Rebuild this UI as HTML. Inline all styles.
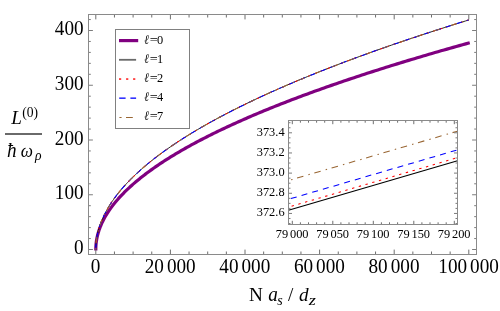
<!DOCTYPE html>
<html><head><meta charset="utf-8"><title>plot</title>
<style>html,body{margin:0;padding:0;background:#fff;}body{width:500px;height:311px;overflow:hidden;font-family:"Liberation Serif",serif;}svg{display:block}text{font-family:"Liberation Serif",serif;fill:#000}</style>
</head><body>
<svg width="500" height="311" viewBox="0 0 500 311" style="will-change:transform">
<rect x="0" y="0" width="500" height="311" fill="#fff"/>
<path d="M95.80 250.40 L95.80 249.50 L95.80 249.04 L95.81 248.52 L95.82 247.97 L95.84 247.41 L95.86 246.82 L95.89 246.23 L95.93 245.63 L95.98 245.01 L96.03 244.39 L96.09 243.77 L96.15 243.13 L96.23 242.49 L96.31 241.85 L96.40 241.20 L96.50 240.54 L96.61 239.88 L96.72 239.22 L96.85 238.55 L96.98 237.88 L97.12 237.21 L97.27 236.53 L97.43 235.85 L97.60 235.17 L97.77 234.48 L97.96 233.79 L98.15 233.10 L98.36 232.40 L98.57 231.70 L98.79 231.00 L99.02 230.30 L99.27 229.59 L99.52 228.89 L99.78 228.18 L100.05 227.47 L100.33 226.75 L100.62 226.04 L100.91 225.32 L101.22 224.60 L101.54 223.88 L101.87 223.15 L102.21 222.43 L102.56 221.70 L102.92 220.97 L103.29 220.24 L103.67 219.51 L104.06 218.77 L104.46 218.04 L104.87 217.30 L105.29 216.56 L105.72 215.82 L106.16 215.08 L106.61 214.34 L107.08 213.59 L107.55 212.85 L108.03 212.10 L108.53 211.35 L109.03 210.60 L109.55 209.85 L110.08 209.10 L110.61 208.34 L111.16 207.59 L111.72 206.83 L112.29 206.07 L112.88 205.31 L113.47 204.55 L114.07 203.79 L114.69 203.03 L115.31 202.27 L115.95 201.50 L116.60 200.74 L117.26 199.97 L117.93 199.20 L118.61 198.43 L119.30 197.66 L120.00 196.89 L120.72 196.12 L121.45 195.35 L122.19 194.57 L122.94 193.80 L123.70 193.02 L124.47 192.24 L125.25 191.47 L126.05 190.69 L126.86 189.91 L127.68 189.13 L128.51 188.35 L129.35 187.56 L130.21 186.78 L131.07 185.99 L131.95 185.21 L132.84 184.42 L133.74 183.64 L134.65 182.85 L135.58 182.06 L136.52 181.27 L137.46 180.48 L138.43 179.69 L139.40 178.90 L140.38 178.10 L141.38 177.31 L142.39 176.51 L143.41 175.72 L144.44 174.92 L145.49 174.13 L146.54 173.33 L147.61 172.53 L148.69 171.73 L149.79 170.93 L150.89 170.13 L152.01 169.33 L153.14 168.53 L154.29 167.72 L155.44 166.92 L156.61 166.12 L157.79 165.31 L158.98 164.51 L160.18 163.70 L161.40 162.89 L162.63 162.09 L163.87 161.28 L165.13 160.47 L166.39 159.66 L167.67 158.85 L168.96 158.04 L170.27 157.23 L171.58 156.41 L172.91 155.60 L174.26 154.79 L175.61 153.97 L176.98 153.16 L178.36 152.34 L179.75 151.53 L181.16 150.71 L182.58 149.89 L184.01 149.07 L185.45 148.25 L186.91 147.44 L188.38 146.62 L189.86 145.80 L191.35 144.97 L192.86 144.15 L194.38 143.33 L195.92 142.51 L197.46 141.68 L199.02 140.86 L200.60 140.04 L202.18 139.21 L203.78 138.39 L205.39 137.56 L207.02 136.73 L208.65 135.91 L210.30 135.08 L211.97 134.25 L213.65 133.42 L215.34 132.59 L217.04 131.76 L218.76 130.93 L220.48 130.10 L222.23 129.27 L223.98 128.44 L225.75 127.60 L227.53 126.77 L229.33 125.94 L231.14 125.10 L232.96 124.27 L234.80 123.43 L236.65 122.60 L238.51 121.76 L240.38 120.93 L242.27 120.09 L244.17 119.25 L246.09 118.41 L248.02 117.57 L249.96 116.73 L251.92 115.89 L253.89 115.05 L255.87 114.21 L257.87 113.37 L259.88 112.53 L261.90 111.69 L263.94 110.85 L265.99 110.00 L268.05 109.16 L270.13 108.32 L272.22 107.47 L274.32 106.63 L276.44 105.78 L278.57 104.94 L280.72 104.09 L282.88 103.25 L285.05 102.40 L287.24 101.55 L289.44 100.70 L291.65 99.85 L293.88 99.01 L296.12 98.16 L298.38 97.31 L300.65 96.46 L302.93 95.61 L305.23 94.76 L307.54 93.90 L309.86 93.05 L312.20 92.20 L314.55 91.35 L316.92 90.50 L319.30 89.64 L321.69 88.79 L324.10 87.93 L326.52 87.08 L328.96 86.22 L331.41 85.37 L333.87 84.51 L336.35 83.66 L338.84 82.80 L341.35 81.94 L343.87 81.09 L346.40 80.23 L348.95 79.37 L351.51 78.51 L354.08 77.65 L356.67 76.79 L359.28 75.93 L361.90 75.07 L364.53 74.21 L367.17 73.35 L369.83 72.49 L372.51 71.63 L375.20 70.77 L377.90 69.90 L380.62 69.04 L383.35 68.18 L386.10 67.31 L388.86 66.45 L391.63 65.58 L394.42 64.72 L397.22 63.85 L400.04 62.99 L402.87 62.12 L405.72 61.26 L408.58 60.39 L411.45 59.52 L414.34 58.66 L417.24 57.79 L420.16 56.92 L423.09 56.05 L426.04 55.18 L429.00 54.31 L431.97 53.45 L434.96 52.58 L437.96 51.71 L440.98 50.83 L444.02 49.96 L447.06 49.09 L450.12 48.22 L453.20 47.35 L456.29 46.48 L459.40 45.60 L462.52 44.73 L465.65 43.86 L468.80 42.98 L469.76 42.72" fill="none" stroke="#800080" stroke-width="3.2" stroke-linejoin="round"/>
<path d="M95.80 249.50 L95.80 248.99 L95.81 248.41 L95.82 247.80 L95.84 247.17 L95.86 246.53 L95.89 245.87 L95.93 245.19 L95.98 244.51 L96.03 243.82 L96.09 243.13 L96.15 242.42 L96.23 241.71 L96.31 240.99 L96.40 240.27 L96.50 239.54 L96.61 238.81 L96.72 238.07 L96.85 237.33 L96.98 236.59 L97.12 235.84 L97.27 235.08 L97.43 234.33 L97.60 233.57 L97.77 232.80 L97.96 232.04 L98.15 231.27 L98.36 230.49 L98.57 229.72 L98.79 228.94 L99.02 228.16 L99.27 227.37 L99.52 226.59 L99.78 225.80 L100.05 225.01 L100.33 224.21 L100.62 223.42 L100.91 222.62 L101.22 221.82 L101.54 221.02 L101.87 220.21 L102.21 219.41 L102.56 218.60 L102.92 217.79 L103.29 216.98 L103.67 216.16 L104.06 215.35 L104.46 214.53 L104.87 213.71 L105.29 212.89 L105.72 212.07 L106.16 211.24 L106.61 210.42 L107.08 209.59 L107.55 208.76 L108.03 207.93 L108.53 207.10 L109.03 206.26 L109.55 205.43 L110.08 204.59 L110.61 203.75 L111.16 202.91 L111.72 202.07 L112.29 201.23 L112.88 200.39 L113.47 199.54 L114.07 198.70 L114.69 197.85 L115.31 197.00 L115.95 196.15 L116.60 195.30 L117.26 194.45 L117.93 193.59 L118.61 192.74 L119.30 191.88 L120.00 191.03 L120.72 190.17 L121.45 189.31 L122.19 188.45 L122.94 187.59 L123.70 186.72 L124.47 185.86 L125.25 185.00 L126.05 184.13 L126.86 183.26 L127.68 182.40 L128.51 181.53 L129.35 180.66 L130.21 179.79 L131.07 178.91 L131.95 178.04 L132.84 177.17 L133.74 176.29 L134.65 175.42 L135.58 174.54 L136.52 173.66 L137.46 172.78 L138.43 171.90 L139.40 171.02 L140.38 170.14 L141.38 169.26 L142.39 168.38 L143.41 167.49 L144.44 166.61 L145.49 165.72 L146.54 164.84 L147.61 163.95 L148.69 163.06 L149.79 162.17 L150.89 161.28 L152.01 160.39 L153.14 159.50 L154.29 158.61 L155.44 157.71 L156.61 156.82 L157.79 155.93 L158.98 155.03 L160.18 154.13 L161.40 153.24 L162.63 152.34 L163.87 151.44 L165.13 150.54 L166.39 149.64 L167.67 148.74 L168.96 147.84 L170.27 146.94 L171.58 146.03 L172.91 145.13 L174.26 144.23 L175.61 143.32 L176.98 142.41 L178.36 141.51 L179.75 140.60 L181.16 139.69 L182.58 138.78 L184.01 137.88 L185.45 136.97 L186.91 136.06 L188.38 135.14 L189.86 134.23 L191.35 133.32 L192.86 132.41 L194.38 131.49 L195.92 130.58 L197.46 129.66 L199.02 128.75 L200.60 127.83 L202.18 126.91 L203.78 126.00 L205.39 125.08 L207.02 124.16 L208.65 123.24 L210.30 122.32 L211.97 121.40 L213.65 120.48 L215.34 119.56 L217.04 118.63 L218.76 117.71 L220.48 116.79 L222.23 115.86 L223.98 114.94 L225.75 114.01 L227.53 113.09 L229.33 112.16 L231.14 111.23 L232.96 110.30 L234.80 109.38 L236.65 108.45 L238.51 107.52 L240.38 106.59 L242.27 105.66 L244.17 104.73 L246.09 103.80 L248.02 102.86 L249.96 101.93 L251.92 101.00 L253.89 100.06 L255.87 99.13 L257.87 98.19 L259.88 97.26 L261.90 96.32 L263.94 95.39 L265.99 94.45 L268.05 93.51 L270.13 92.58 L272.22 91.64 L274.32 90.70 L276.44 89.76 L278.57 88.82 L280.72 87.88 L282.88 86.94 L285.05 86.00 L287.24 85.05 L289.44 84.11 L291.65 83.17 L293.88 82.23 L296.12 81.28 L298.38 80.34 L300.65 79.39 L302.93 78.45 L305.23 77.50 L307.54 76.56 L309.86 75.61 L312.20 74.66 L314.55 73.71 L316.92 72.77 L319.30 71.82 L321.69 70.87 L324.10 69.92 L326.52 68.97 L328.96 68.02 L331.41 67.07 L333.87 66.12 L336.35 65.16 L338.84 64.21 L341.35 63.26 L343.87 62.31 L346.40 61.35 L348.95 60.40 L351.51 59.44 L354.08 58.49 L356.67 57.53 L359.28 56.58 L361.90 55.62 L364.53 54.67 L367.17 53.71 L369.83 52.75 L372.51 51.79 L375.20 50.84 L377.90 49.88 L380.62 48.92 L383.35 47.96 L386.10 47.00 L388.86 46.04 L391.63 45.08 L394.42 44.12 L397.22 43.15 L400.04 42.19 L402.87 41.23 L405.72 40.27 L408.58 39.30 L411.45 38.34 L414.34 37.38 L417.24 36.41 L420.16 35.45 L423.09 34.48 L426.04 33.52 L429.00 32.55 L431.97 31.58 L434.96 30.62 L437.96 29.65 L440.98 28.68 L444.02 27.72 L447.06 26.75 L450.12 25.78 L453.20 24.81 L456.29 23.84 L459.40 22.87 L462.52 21.90 L465.65 20.93 L468.80 19.96" fill="none" stroke="#000" stroke-width="0.85"/>
<path d="M95.80 249.50 L95.80 248.99 L95.81 248.41 L95.82 247.80 L95.84 247.17 L95.86 246.53 L95.89 245.87 L95.93 245.19 L95.98 244.51 L96.03 243.82 L96.09 243.13 L96.15 242.42 L96.23 241.71 L96.31 240.99 L96.40 240.27 L96.50 239.54 L96.61 238.81 L96.72 238.07 L96.85 237.33 L96.98 236.59 L97.12 235.84 L97.27 235.08 L97.43 234.33 L97.60 233.57 L97.77 232.80 L97.96 232.04 L98.15 231.27 L98.36 230.49 L98.57 229.72 L98.79 228.94 L99.02 228.16 L99.27 227.37 L99.52 226.59 L99.78 225.80 L100.05 225.01 L100.33 224.21 L100.62 223.42 L100.91 222.62 L101.22 221.82 L101.54 221.02 L101.87 220.21 L102.21 219.41 L102.56 218.60 L102.92 217.79 L103.29 216.98 L103.67 216.16 L104.06 215.35 L104.46 214.53 L104.87 213.71 L105.29 212.89 L105.72 212.07 L106.16 211.24 L106.61 210.42 L107.08 209.59 L107.55 208.76 L108.03 207.93 L108.53 207.10 L109.03 206.26 L109.55 205.43 L110.08 204.59 L110.61 203.75 L111.16 202.91 L111.72 202.07 L112.29 201.23 L112.88 200.39 L113.47 199.54 L114.07 198.70 L114.69 197.85 L115.31 197.00 L115.95 196.15 L116.60 195.30 L117.26 194.45 L117.93 193.59 L118.61 192.74 L119.30 191.88 L120.00 191.03 L120.72 190.17 L121.45 189.31 L122.19 188.45 L122.94 187.59 L123.70 186.72 L124.47 185.86 L125.25 185.00 L126.05 184.13 L126.86 183.26 L127.68 182.40 L128.51 181.53 L129.35 180.66 L130.21 179.79 L131.07 178.91 L131.95 178.04 L132.84 177.17 L133.74 176.29 L134.65 175.42 L135.58 174.54 L136.52 173.66 L137.46 172.78 L138.43 171.90 L139.40 171.02 L140.38 170.14 L141.38 169.26 L142.39 168.38 L143.41 167.49 L144.44 166.61 L145.49 165.72 L146.54 164.84 L147.61 163.95 L148.69 163.06 L149.79 162.17 L150.89 161.28 L152.01 160.39 L153.14 159.50 L154.29 158.61 L155.44 157.71 L156.61 156.82 L157.79 155.93 L158.98 155.03 L160.18 154.13 L161.40 153.24 L162.63 152.34 L163.87 151.44 L165.13 150.54 L166.39 149.64 L167.67 148.74 L168.96 147.84 L170.27 146.94 L171.58 146.03 L172.91 145.13 L174.26 144.23 L175.61 143.32 L176.98 142.41 L178.36 141.51 L179.75 140.60 L181.16 139.69 L182.58 138.78 L184.01 137.88 L185.45 136.97 L186.91 136.06 L188.38 135.14 L189.86 134.23 L191.35 133.32 L192.86 132.41 L194.38 131.49 L195.92 130.58 L197.46 129.66 L199.02 128.75 L200.60 127.83 L202.18 126.91 L203.78 126.00 L205.39 125.08 L207.02 124.16 L208.65 123.24 L210.30 122.32 L211.97 121.40 L213.65 120.48 L215.34 119.56 L217.04 118.63 L218.76 117.71 L220.48 116.79 L222.23 115.86 L223.98 114.94 L225.75 114.01 L227.53 113.09 L229.33 112.16 L231.14 111.23 L232.96 110.30 L234.80 109.38 L236.65 108.45 L238.51 107.52 L240.38 106.59 L242.27 105.66 L244.17 104.73 L246.09 103.80 L248.02 102.86 L249.96 101.93 L251.92 101.00 L253.89 100.06 L255.87 99.13 L257.87 98.19 L259.88 97.26 L261.90 96.32 L263.94 95.39 L265.99 94.45 L268.05 93.51 L270.13 92.58 L272.22 91.64 L274.32 90.70 L276.44 89.76 L278.57 88.82 L280.72 87.88 L282.88 86.94 L285.05 86.00 L287.24 85.05 L289.44 84.11 L291.65 83.17 L293.88 82.23 L296.12 81.28 L298.38 80.34 L300.65 79.39 L302.93 78.45 L305.23 77.50 L307.54 76.56 L309.86 75.61 L312.20 74.66 L314.55 73.71 L316.92 72.77 L319.30 71.82 L321.69 70.87 L324.10 69.92 L326.52 68.97 L328.96 68.02 L331.41 67.07 L333.87 66.12 L336.35 65.16 L338.84 64.21 L341.35 63.26 L343.87 62.31 L346.40 61.35 L348.95 60.40 L351.51 59.44 L354.08 58.49 L356.67 57.53 L359.28 56.58 L361.90 55.62 L364.53 54.67 L367.17 53.71 L369.83 52.75 L372.51 51.79 L375.20 50.84 L377.90 49.88 L380.62 48.92 L383.35 47.96 L386.10 47.00 L388.86 46.04 L391.63 45.08 L394.42 44.12 L397.22 43.15 L400.04 42.19 L402.87 41.23 L405.72 40.27 L408.58 39.30 L411.45 38.34 L414.34 37.38 L417.24 36.41 L420.16 35.45 L423.09 34.48 L426.04 33.52 L429.00 32.55 L431.97 31.58 L434.96 30.62 L437.96 29.65 L440.98 28.68 L444.02 27.72 L447.06 26.75 L450.12 25.78 L453.20 24.81 L456.29 23.84 L459.40 22.87 L462.52 21.90 L465.65 20.93 L468.80 19.96" fill="none" stroke="#ff0000" stroke-width="1.05" stroke-dasharray="2.2 4.8"/>
<path d="M95.80 249.50 L95.80 248.99 L95.81 248.41 L95.82 247.80 L95.84 247.17 L95.86 246.53 L95.89 245.87 L95.93 245.19 L95.98 244.51 L96.03 243.82 L96.09 243.13 L96.15 242.42 L96.23 241.71 L96.31 240.99 L96.40 240.27 L96.50 239.54 L96.61 238.81 L96.72 238.07 L96.85 237.33 L96.98 236.59 L97.12 235.84 L97.27 235.08 L97.43 234.33 L97.60 233.57 L97.77 232.80 L97.96 232.04 L98.15 231.27 L98.36 230.49 L98.57 229.72 L98.79 228.94 L99.02 228.16 L99.27 227.37 L99.52 226.59 L99.78 225.80 L100.05 225.01 L100.33 224.21 L100.62 223.42 L100.91 222.62 L101.22 221.82 L101.54 221.02 L101.87 220.21 L102.21 219.41 L102.56 218.60 L102.92 217.79 L103.29 216.98 L103.67 216.16 L104.06 215.35 L104.46 214.53 L104.87 213.71 L105.29 212.89 L105.72 212.07 L106.16 211.24 L106.61 210.42 L107.08 209.59 L107.55 208.76 L108.03 207.93 L108.53 207.10 L109.03 206.26 L109.55 205.43 L110.08 204.59 L110.61 203.75 L111.16 202.91 L111.72 202.07 L112.29 201.23 L112.88 200.39 L113.47 199.54 L114.07 198.70 L114.69 197.85 L115.31 197.00 L115.95 196.15 L116.60 195.30 L117.26 194.45 L117.93 193.59 L118.61 192.74 L119.30 191.88 L120.00 191.03 L120.72 190.17 L121.45 189.31 L122.19 188.45 L122.94 187.59 L123.70 186.72 L124.47 185.86 L125.25 185.00 L126.05 184.13 L126.86 183.26 L127.68 182.40 L128.51 181.53 L129.35 180.66 L130.21 179.79 L131.07 178.91 L131.95 178.04 L132.84 177.17 L133.74 176.29 L134.65 175.42 L135.58 174.54 L136.52 173.66 L137.46 172.78 L138.43 171.90 L139.40 171.02 L140.38 170.14 L141.38 169.26 L142.39 168.38 L143.41 167.49 L144.44 166.61 L145.49 165.72 L146.54 164.84 L147.61 163.95 L148.69 163.06 L149.79 162.17 L150.89 161.28 L152.01 160.39 L153.14 159.50 L154.29 158.61 L155.44 157.71 L156.61 156.82 L157.79 155.93 L158.98 155.03 L160.18 154.13 L161.40 153.24 L162.63 152.34 L163.87 151.44 L165.13 150.54 L166.39 149.64 L167.67 148.74 L168.96 147.84 L170.27 146.94 L171.58 146.03 L172.91 145.13 L174.26 144.23 L175.61 143.32 L176.98 142.41 L178.36 141.51 L179.75 140.60 L181.16 139.69 L182.58 138.78 L184.01 137.88 L185.45 136.97 L186.91 136.06 L188.38 135.14 L189.86 134.23 L191.35 133.32 L192.86 132.41 L194.38 131.49 L195.92 130.58 L197.46 129.66 L199.02 128.75 L200.60 127.83 L202.18 126.91 L203.78 126.00 L205.39 125.08 L207.02 124.16 L208.65 123.24 L210.30 122.32 L211.97 121.40 L213.65 120.48 L215.34 119.56 L217.04 118.63 L218.76 117.71 L220.48 116.79 L222.23 115.86 L223.98 114.94 L225.75 114.01 L227.53 113.09 L229.33 112.16 L231.14 111.23 L232.96 110.30 L234.80 109.38 L236.65 108.45 L238.51 107.52 L240.38 106.59 L242.27 105.66 L244.17 104.73 L246.09 103.80 L248.02 102.86 L249.96 101.93 L251.92 101.00 L253.89 100.06 L255.87 99.13 L257.87 98.19 L259.88 97.26 L261.90 96.32 L263.94 95.39 L265.99 94.45 L268.05 93.51 L270.13 92.58 L272.22 91.64 L274.32 90.70 L276.44 89.76 L278.57 88.82 L280.72 87.88 L282.88 86.94 L285.05 86.00 L287.24 85.05 L289.44 84.11 L291.65 83.17 L293.88 82.23 L296.12 81.28 L298.38 80.34 L300.65 79.39 L302.93 78.45 L305.23 77.50 L307.54 76.56 L309.86 75.61 L312.20 74.66 L314.55 73.71 L316.92 72.77 L319.30 71.82 L321.69 70.87 L324.10 69.92 L326.52 68.97 L328.96 68.02 L331.41 67.07 L333.87 66.12 L336.35 65.16 L338.84 64.21 L341.35 63.26 L343.87 62.31 L346.40 61.35 L348.95 60.40 L351.51 59.44 L354.08 58.49 L356.67 57.53 L359.28 56.58 L361.90 55.62 L364.53 54.67 L367.17 53.71 L369.83 52.75 L372.51 51.79 L375.20 50.84 L377.90 49.88 L380.62 48.92 L383.35 47.96 L386.10 47.00 L388.86 46.04 L391.63 45.08 L394.42 44.12 L397.22 43.15 L400.04 42.19 L402.87 41.23 L405.72 40.27 L408.58 39.30 L411.45 38.34 L414.34 37.38 L417.24 36.41 L420.16 35.45 L423.09 34.48 L426.04 33.52 L429.00 32.55 L431.97 31.58 L434.96 30.62 L437.96 29.65 L440.98 28.68 L444.02 27.72 L447.06 26.75 L450.12 25.78 L453.20 24.81 L456.29 23.84 L459.40 22.87 L462.52 21.90 L465.65 20.93 L468.80 19.96" fill="none" stroke="#0000ff" stroke-width="1.05" stroke-dasharray="6 5.1"/>
<path d="M95.80 249.50 L95.80 248.99 L95.81 248.41 L95.82 247.80 L95.84 247.17 L95.86 246.53 L95.89 245.87 L95.93 245.19 L95.98 244.51 L96.03 243.82 L96.09 243.13 L96.15 242.42 L96.23 241.71 L96.31 240.99 L96.40 240.27 L96.50 239.54 L96.61 238.81 L96.72 238.07 L96.85 237.33 L96.98 236.59 L97.12 235.84 L97.27 235.08 L97.43 234.33 L97.60 233.57 L97.77 232.80 L97.96 232.04 L98.15 231.27 L98.36 230.49 L98.57 229.72 L98.79 228.94 L99.02 228.16 L99.27 227.37 L99.52 226.59 L99.78 225.80 L100.05 225.01 L100.33 224.21 L100.62 223.42 L100.91 222.62 L101.22 221.82 L101.54 221.02 L101.87 220.21 L102.21 219.41 L102.56 218.60 L102.92 217.79 L103.29 216.98 L103.67 216.16 L104.06 215.35 L104.46 214.53 L104.87 213.71 L105.29 212.89 L105.72 212.07 L106.16 211.24 L106.61 210.42 L107.08 209.59 L107.55 208.76 L108.03 207.93 L108.53 207.10 L109.03 206.26 L109.55 205.43 L110.08 204.59 L110.61 203.75 L111.16 202.91 L111.72 202.07 L112.29 201.23 L112.88 200.39 L113.47 199.54 L114.07 198.70 L114.69 197.85 L115.31 197.00 L115.95 196.15 L116.60 195.30 L117.26 194.45 L117.93 193.59 L118.61 192.74 L119.30 191.88 L120.00 191.03 L120.72 190.17 L121.45 189.31 L122.19 188.45 L122.94 187.59 L123.70 186.72 L124.47 185.86 L125.25 185.00 L126.05 184.13 L126.86 183.26 L127.68 182.40 L128.51 181.53 L129.35 180.66 L130.21 179.79 L131.07 178.91 L131.95 178.04 L132.84 177.17 L133.74 176.29 L134.65 175.42 L135.58 174.54 L136.52 173.66 L137.46 172.78 L138.43 171.90 L139.40 171.02 L140.38 170.14 L141.38 169.26 L142.39 168.38 L143.41 167.49 L144.44 166.61 L145.49 165.72 L146.54 164.84 L147.61 163.95 L148.69 163.06 L149.79 162.17 L150.89 161.28 L152.01 160.39 L153.14 159.50 L154.29 158.61 L155.44 157.71 L156.61 156.82 L157.79 155.93 L158.98 155.03 L160.18 154.13 L161.40 153.24 L162.63 152.34 L163.87 151.44 L165.13 150.54 L166.39 149.64 L167.67 148.74 L168.96 147.84 L170.27 146.94 L171.58 146.03 L172.91 145.13 L174.26 144.23 L175.61 143.32 L176.98 142.41 L178.36 141.51 L179.75 140.60 L181.16 139.69 L182.58 138.78 L184.01 137.88 L185.45 136.97 L186.91 136.06 L188.38 135.14 L189.86 134.23 L191.35 133.32 L192.86 132.41 L194.38 131.49 L195.92 130.58 L197.46 129.66 L199.02 128.75 L200.60 127.83 L202.18 126.91 L203.78 126.00 L205.39 125.08 L207.02 124.16 L208.65 123.24 L210.30 122.32 L211.97 121.40 L213.65 120.48 L215.34 119.56 L217.04 118.63 L218.76 117.71 L220.48 116.79 L222.23 115.86 L223.98 114.94 L225.75 114.01 L227.53 113.09 L229.33 112.16 L231.14 111.23 L232.96 110.30 L234.80 109.38 L236.65 108.45 L238.51 107.52 L240.38 106.59 L242.27 105.66 L244.17 104.73 L246.09 103.80 L248.02 102.86 L249.96 101.93 L251.92 101.00 L253.89 100.06 L255.87 99.13 L257.87 98.19 L259.88 97.26 L261.90 96.32 L263.94 95.39 L265.99 94.45 L268.05 93.51 L270.13 92.58 L272.22 91.64 L274.32 90.70 L276.44 89.76 L278.57 88.82 L280.72 87.88 L282.88 86.94 L285.05 86.00 L287.24 85.05 L289.44 84.11 L291.65 83.17 L293.88 82.23 L296.12 81.28 L298.38 80.34 L300.65 79.39 L302.93 78.45 L305.23 77.50 L307.54 76.56 L309.86 75.61 L312.20 74.66 L314.55 73.71 L316.92 72.77 L319.30 71.82 L321.69 70.87 L324.10 69.92 L326.52 68.97 L328.96 68.02 L331.41 67.07 L333.87 66.12 L336.35 65.16 L338.84 64.21 L341.35 63.26 L343.87 62.31 L346.40 61.35 L348.95 60.40 L351.51 59.44 L354.08 58.49 L356.67 57.53 L359.28 56.58 L361.90 55.62 L364.53 54.67 L367.17 53.71 L369.83 52.75 L372.51 51.79 L375.20 50.84 L377.90 49.88 L380.62 48.92 L383.35 47.96 L386.10 47.00 L388.86 46.04 L391.63 45.08 L394.42 44.12 L397.22 43.15 L400.04 42.19 L402.87 41.23 L405.72 40.27 L408.58 39.30 L411.45 38.34 L414.34 37.38 L417.24 36.41 L420.16 35.45 L423.09 34.48 L426.04 33.52 L429.00 32.55 L431.97 31.58 L434.96 30.62 L437.96 29.65 L440.98 28.68 L444.02 27.72 L447.06 26.75 L450.12 25.78 L453.20 24.81 L456.29 23.84 L459.40 22.87 L462.52 21.90 L465.65 20.93 L468.80 19.96" fill="none" stroke="#996633" stroke-width="1.05" stroke-dasharray="1.5 4.7 6.6 5.2"/>
<line x1="95.80" y1="14.50" x2="95.80" y2="19.40" stroke="#6e6e6e" stroke-width="1"/>
<line x1="95.80" y1="254.50" x2="95.80" y2="249.60" stroke="#6e6e6e" stroke-width="1"/>
<line x1="114.45" y1="14.50" x2="114.45" y2="17.50" stroke="#6e6e6e" stroke-width="1"/>
<line x1="114.45" y1="254.50" x2="114.45" y2="251.50" stroke="#6e6e6e" stroke-width="1"/>
<line x1="133.10" y1="14.50" x2="133.10" y2="17.50" stroke="#6e6e6e" stroke-width="1"/>
<line x1="133.10" y1="254.50" x2="133.10" y2="251.50" stroke="#6e6e6e" stroke-width="1"/>
<line x1="151.75" y1="14.50" x2="151.75" y2="17.50" stroke="#6e6e6e" stroke-width="1"/>
<line x1="151.75" y1="254.50" x2="151.75" y2="251.50" stroke="#6e6e6e" stroke-width="1"/>
<line x1="170.40" y1="14.50" x2="170.40" y2="19.40" stroke="#6e6e6e" stroke-width="1"/>
<line x1="170.40" y1="254.50" x2="170.40" y2="249.60" stroke="#6e6e6e" stroke-width="1"/>
<line x1="189.05" y1="14.50" x2="189.05" y2="17.50" stroke="#6e6e6e" stroke-width="1"/>
<line x1="189.05" y1="254.50" x2="189.05" y2="251.50" stroke="#6e6e6e" stroke-width="1"/>
<line x1="207.70" y1="14.50" x2="207.70" y2="17.50" stroke="#6e6e6e" stroke-width="1"/>
<line x1="207.70" y1="254.50" x2="207.70" y2="251.50" stroke="#6e6e6e" stroke-width="1"/>
<line x1="226.35" y1="14.50" x2="226.35" y2="17.50" stroke="#6e6e6e" stroke-width="1"/>
<line x1="226.35" y1="254.50" x2="226.35" y2="251.50" stroke="#6e6e6e" stroke-width="1"/>
<line x1="245.00" y1="14.50" x2="245.00" y2="19.40" stroke="#6e6e6e" stroke-width="1"/>
<line x1="245.00" y1="254.50" x2="245.00" y2="249.60" stroke="#6e6e6e" stroke-width="1"/>
<line x1="263.65" y1="14.50" x2="263.65" y2="17.50" stroke="#6e6e6e" stroke-width="1"/>
<line x1="263.65" y1="254.50" x2="263.65" y2="251.50" stroke="#6e6e6e" stroke-width="1"/>
<line x1="282.30" y1="14.50" x2="282.30" y2="17.50" stroke="#6e6e6e" stroke-width="1"/>
<line x1="282.30" y1="254.50" x2="282.30" y2="251.50" stroke="#6e6e6e" stroke-width="1"/>
<line x1="300.95" y1="14.50" x2="300.95" y2="17.50" stroke="#6e6e6e" stroke-width="1"/>
<line x1="300.95" y1="254.50" x2="300.95" y2="251.50" stroke="#6e6e6e" stroke-width="1"/>
<line x1="319.60" y1="14.50" x2="319.60" y2="19.40" stroke="#6e6e6e" stroke-width="1"/>
<line x1="319.60" y1="254.50" x2="319.60" y2="249.60" stroke="#6e6e6e" stroke-width="1"/>
<line x1="338.25" y1="14.50" x2="338.25" y2="17.50" stroke="#6e6e6e" stroke-width="1"/>
<line x1="338.25" y1="254.50" x2="338.25" y2="251.50" stroke="#6e6e6e" stroke-width="1"/>
<line x1="356.90" y1="14.50" x2="356.90" y2="17.50" stroke="#6e6e6e" stroke-width="1"/>
<line x1="356.90" y1="254.50" x2="356.90" y2="251.50" stroke="#6e6e6e" stroke-width="1"/>
<line x1="375.55" y1="14.50" x2="375.55" y2="17.50" stroke="#6e6e6e" stroke-width="1"/>
<line x1="375.55" y1="254.50" x2="375.55" y2="251.50" stroke="#6e6e6e" stroke-width="1"/>
<line x1="394.20" y1="14.50" x2="394.20" y2="19.40" stroke="#6e6e6e" stroke-width="1"/>
<line x1="394.20" y1="254.50" x2="394.20" y2="249.60" stroke="#6e6e6e" stroke-width="1"/>
<line x1="412.85" y1="14.50" x2="412.85" y2="17.50" stroke="#6e6e6e" stroke-width="1"/>
<line x1="412.85" y1="254.50" x2="412.85" y2="251.50" stroke="#6e6e6e" stroke-width="1"/>
<line x1="431.50" y1="14.50" x2="431.50" y2="17.50" stroke="#6e6e6e" stroke-width="1"/>
<line x1="431.50" y1="254.50" x2="431.50" y2="251.50" stroke="#6e6e6e" stroke-width="1"/>
<line x1="450.15" y1="14.50" x2="450.15" y2="17.50" stroke="#6e6e6e" stroke-width="1"/>
<line x1="450.15" y1="254.50" x2="450.15" y2="251.50" stroke="#6e6e6e" stroke-width="1"/>
<line x1="468.80" y1="14.50" x2="468.80" y2="19.40" stroke="#6e6e6e" stroke-width="1"/>
<line x1="468.80" y1="254.50" x2="468.80" y2="249.60" stroke="#6e6e6e" stroke-width="1"/>
<line x1="88.50" y1="249.50" x2="92.90" y2="249.50" stroke="#7c7c7c" stroke-width="1"/>
<line x1="476.50" y1="249.50" x2="472.10" y2="249.50" stroke="#7c7c7c" stroke-width="1"/>
<line x1="88.50" y1="238.55" x2="90.80" y2="238.55" stroke="#7c7c7c" stroke-width="1"/>
<line x1="476.50" y1="238.55" x2="474.20" y2="238.55" stroke="#7c7c7c" stroke-width="1"/>
<line x1="88.50" y1="227.60" x2="90.80" y2="227.60" stroke="#7c7c7c" stroke-width="1"/>
<line x1="476.50" y1="227.60" x2="474.20" y2="227.60" stroke="#7c7c7c" stroke-width="1"/>
<line x1="88.50" y1="216.65" x2="90.80" y2="216.65" stroke="#7c7c7c" stroke-width="1"/>
<line x1="476.50" y1="216.65" x2="474.20" y2="216.65" stroke="#7c7c7c" stroke-width="1"/>
<line x1="88.50" y1="205.70" x2="90.80" y2="205.70" stroke="#7c7c7c" stroke-width="1"/>
<line x1="476.50" y1="205.70" x2="474.20" y2="205.70" stroke="#7c7c7c" stroke-width="1"/>
<line x1="88.50" y1="194.75" x2="92.90" y2="194.75" stroke="#7c7c7c" stroke-width="1"/>
<line x1="476.50" y1="194.75" x2="472.10" y2="194.75" stroke="#7c7c7c" stroke-width="1"/>
<line x1="88.50" y1="183.80" x2="90.80" y2="183.80" stroke="#7c7c7c" stroke-width="1"/>
<line x1="476.50" y1="183.80" x2="474.20" y2="183.80" stroke="#7c7c7c" stroke-width="1"/>
<line x1="88.50" y1="172.85" x2="90.80" y2="172.85" stroke="#7c7c7c" stroke-width="1"/>
<line x1="476.50" y1="172.85" x2="474.20" y2="172.85" stroke="#7c7c7c" stroke-width="1"/>
<line x1="88.50" y1="161.90" x2="90.80" y2="161.90" stroke="#7c7c7c" stroke-width="1"/>
<line x1="476.50" y1="161.90" x2="474.20" y2="161.90" stroke="#7c7c7c" stroke-width="1"/>
<line x1="88.50" y1="150.95" x2="90.80" y2="150.95" stroke="#7c7c7c" stroke-width="1"/>
<line x1="476.50" y1="150.95" x2="474.20" y2="150.95" stroke="#7c7c7c" stroke-width="1"/>
<line x1="88.50" y1="140.00" x2="92.90" y2="140.00" stroke="#7c7c7c" stroke-width="1"/>
<line x1="476.50" y1="140.00" x2="472.10" y2="140.00" stroke="#7c7c7c" stroke-width="1"/>
<line x1="88.50" y1="129.05" x2="90.80" y2="129.05" stroke="#7c7c7c" stroke-width="1"/>
<line x1="476.50" y1="129.05" x2="474.20" y2="129.05" stroke="#7c7c7c" stroke-width="1"/>
<line x1="88.50" y1="118.10" x2="90.80" y2="118.10" stroke="#7c7c7c" stroke-width="1"/>
<line x1="476.50" y1="118.10" x2="474.20" y2="118.10" stroke="#7c7c7c" stroke-width="1"/>
<line x1="88.50" y1="107.15" x2="90.80" y2="107.15" stroke="#7c7c7c" stroke-width="1"/>
<line x1="476.50" y1="107.15" x2="474.20" y2="107.15" stroke="#7c7c7c" stroke-width="1"/>
<line x1="88.50" y1="96.20" x2="90.80" y2="96.20" stroke="#7c7c7c" stroke-width="1"/>
<line x1="476.50" y1="96.20" x2="474.20" y2="96.20" stroke="#7c7c7c" stroke-width="1"/>
<line x1="88.50" y1="85.25" x2="92.90" y2="85.25" stroke="#7c7c7c" stroke-width="1"/>
<line x1="476.50" y1="85.25" x2="472.10" y2="85.25" stroke="#7c7c7c" stroke-width="1"/>
<line x1="88.50" y1="74.30" x2="90.80" y2="74.30" stroke="#7c7c7c" stroke-width="1"/>
<line x1="476.50" y1="74.30" x2="474.20" y2="74.30" stroke="#7c7c7c" stroke-width="1"/>
<line x1="88.50" y1="63.35" x2="90.80" y2="63.35" stroke="#7c7c7c" stroke-width="1"/>
<line x1="476.50" y1="63.35" x2="474.20" y2="63.35" stroke="#7c7c7c" stroke-width="1"/>
<line x1="88.50" y1="52.40" x2="90.80" y2="52.40" stroke="#7c7c7c" stroke-width="1"/>
<line x1="476.50" y1="52.40" x2="474.20" y2="52.40" stroke="#7c7c7c" stroke-width="1"/>
<line x1="88.50" y1="41.45" x2="90.80" y2="41.45" stroke="#7c7c7c" stroke-width="1"/>
<line x1="476.50" y1="41.45" x2="474.20" y2="41.45" stroke="#7c7c7c" stroke-width="1"/>
<line x1="88.50" y1="30.50" x2="92.90" y2="30.50" stroke="#7c7c7c" stroke-width="1"/>
<line x1="476.50" y1="30.50" x2="472.10" y2="30.50" stroke="#7c7c7c" stroke-width="1"/>
<line x1="88.50" y1="19.55" x2="90.80" y2="19.55" stroke="#7c7c7c" stroke-width="1"/>
<line x1="476.50" y1="19.55" x2="474.20" y2="19.55" stroke="#7c7c7c" stroke-width="1"/>
<rect x="88.5" y="14.5" width="388.0" height="240.0" fill="none" stroke="#8a8a8a" stroke-width="1"/>
<text transform="translate(83.60 254.10) scale(1.000 1.060)" font-size="19.20" text-anchor="end"  >0</text>
<text transform="translate(83.60 199.35) scale(1.000 1.060)" font-size="19.20" text-anchor="end"  >100</text>
<text transform="translate(83.60 144.60) scale(1.000 1.060)" font-size="19.20" text-anchor="end"  >200</text>
<text transform="translate(83.60 89.85) scale(1.000 1.060)" font-size="19.20" text-anchor="end"  >300</text>
<text transform="translate(83.60 35.10) scale(1.000 1.060)" font-size="19.20" text-anchor="end"  >400</text>
<text transform="translate(95.60 273.00) scale(1.000 1.060)" font-size="19.20" text-anchor="middle"  >0</text>
<text transform="translate(170.20 273.00) scale(1.000 1.060)" font-size="19.20" text-anchor="middle"  >20<tspan dx="3.00">000</tspan></text>
<text transform="translate(244.80 273.00) scale(1.000 1.060)" font-size="19.20" text-anchor="middle"  >40<tspan dx="3.00">000</tspan></text>
<text transform="translate(319.40 273.00) scale(1.000 1.060)" font-size="19.20" text-anchor="middle"  >60<tspan dx="3.00">000</tspan></text>
<text transform="translate(394.00 273.00) scale(1.000 1.060)" font-size="19.20" text-anchor="middle"  >80<tspan dx="3.00">000</tspan></text>
<text transform="translate(468.60 273.00) scale(1.000 1.060)" font-size="19.20" text-anchor="middle"  >100<tspan dx="3.00">000</tspan></text>
<text transform="translate(249.00 301.00) scale(1.000 1.000)" font-size="19.20" text-anchor="start"  >N</text>
<text transform="translate(268.20 301.00) scale(1.000 1.060)" font-size="19.20" text-anchor="start" font-style="italic" >a</text>
<text transform="translate(277.30 304.60) scale(1.000 1.060)" font-size="14.00" text-anchor="start" font-style="italic" >s</text>
<text transform="translate(288.00 301.00) scale(1.000 1.000)" font-size="19.20" text-anchor="start"  >/</text>
<text transform="translate(299.00 301.00) scale(1.000 1.030)" font-size="19.20" text-anchor="start" font-style="italic" >d</text>
<text transform="translate(308.70 304.60) scale(1.300 1.060)" font-size="14.00" text-anchor="start" font-style="italic" >z</text>
<text transform="translate(11.20 124.00) scale(1.000 1.000)" font-size="19.20" text-anchor="start" font-style="italic" >L</text>
<text transform="translate(22.20 117.10) scale(1.000 1.000)" font-size="13.60" text-anchor="start"  >(0)</text>
<line x1="5.00" y1="134.00" x2="42.00" y2="134.00" stroke="#383838" stroke-width="1.3"/>
<text transform="translate(7.00 157.00) scale(1.000 1.060)" font-size="19.20" text-anchor="start" font-style="italic" >ħ</text>
<text transform="translate(20.70 157.00) scale(0.900 0.950)" font-size="19.20" text-anchor="start" font-style="italic" >ω</text>
<text transform="translate(35.00 160.20) scale(1.000 1.060)" font-size="13.60" text-anchor="start" font-style="italic" >ρ</text>
<rect x="115.5" y="29.5" width="74.0" height="99.0" fill="#fff" stroke="#808080" stroke-width="1"/>
<line x1="119.00" y1="40.60" x2="138.20" y2="40.60" stroke="#800080" stroke-width="3.2"/>
<line x1="119.00" y1="59.80" x2="136.10" y2="59.80" stroke="#6a6a6a" stroke-width="1.8"/>
<line x1="119.00" y1="79.05" x2="121.20" y2="79.05" stroke="#ff0000" stroke-width="1.4"/>
<line x1="126.10" y1="79.05" x2="128.30" y2="79.05" stroke="#ff0000" stroke-width="1.4"/>
<line x1="133.10" y1="79.05" x2="135.30" y2="79.05" stroke="#ff0000" stroke-width="1.4"/>
<line x1="119.20" y1="98.15" x2="125.60" y2="98.15" stroke="#0000ff" stroke-width="1.3"/>
<line x1="130.40" y1="98.15" x2="136.10" y2="98.15" stroke="#0000ff" stroke-width="1.3"/>
<line x1="119.40" y1="117.50" x2="121.60" y2="117.50" stroke="#996633" stroke-width="1.05"/>
<line x1="126.00" y1="117.50" x2="132.80" y2="117.50" stroke="#996633" stroke-width="1.05"/>
<text transform="translate(144.30 43.90) scale(0.880 1.060)" font-size="12.40" text-anchor="start" font-style="italic" >ℓ</text>
<text transform="translate(149.70 43.90) scale(1.140 1.060)" font-size="12.40" text-anchor="start"  >=</text>
<text transform="translate(156.90 43.90) scale(1.000 1.060)" font-size="12.40" text-anchor="start"  >0</text>
<text transform="translate(144.30 62.90) scale(0.880 1.060)" font-size="12.40" text-anchor="start" font-style="italic" >ℓ</text>
<text transform="translate(149.70 62.90) scale(1.140 1.060)" font-size="12.40" text-anchor="start"  >=</text>
<text transform="translate(156.90 62.90) scale(1.000 1.060)" font-size="12.40" text-anchor="start"  >1</text>
<text transform="translate(144.30 81.90) scale(0.880 1.060)" font-size="12.40" text-anchor="start" font-style="italic" >ℓ</text>
<text transform="translate(149.70 81.90) scale(1.140 1.060)" font-size="12.40" text-anchor="start"  >=</text>
<text transform="translate(156.90 81.90) scale(1.000 1.060)" font-size="12.40" text-anchor="start"  >2</text>
<text transform="translate(144.30 100.90) scale(0.880 1.060)" font-size="12.40" text-anchor="start" font-style="italic" >ℓ</text>
<text transform="translate(149.70 100.90) scale(1.140 1.060)" font-size="12.40" text-anchor="start"  >=</text>
<text transform="translate(156.90 100.90) scale(1.000 1.060)" font-size="12.40" text-anchor="start"  >4</text>
<text transform="translate(144.30 120.20) scale(0.880 1.060)" font-size="12.40" text-anchor="start" font-style="italic" >ℓ</text>
<text transform="translate(149.70 120.20) scale(1.140 1.060)" font-size="12.40" text-anchor="start"  >=</text>
<text transform="translate(156.90 120.20) scale(1.000 1.060)" font-size="12.40" text-anchor="start"  >7</text>
<rect x="288.5" y="120.5" width="169.0" height="104.0" fill="#fff" stroke="none"/>
<clipPath id="ic"><rect x="288.5" y="120.5" width="169.5" height="104.0"/></clipPath>
<g clip-path="url(#ic)">
<line x1="288.50" y1="210.20" x2="457.50" y2="160.77" stroke="#000" stroke-width="1.1" />
<line x1="288.50" y1="207.10" x2="457.50" y2="157.67" stroke="#ff0000" stroke-width="1.05" stroke-dasharray="2.4 4.6" stroke-dashoffset="-3.2"/>
<line x1="288.50" y1="199.30" x2="457.50" y2="149.87" stroke="#0000ff" stroke-width="1.05" stroke-dasharray="6 5.1" stroke-dashoffset="-2.5"/>
<line x1="288.50" y1="180.60" x2="457.50" y2="131.17" stroke="#996633" stroke-width="1.05" stroke-dasharray="1.5 4.7 6.6 5.2" stroke-dashoffset="-2.7"/>
</g>
<line x1="292.30" y1="120.50" x2="292.30" y2="124.20" stroke="#6e6e6e" stroke-width="1"/>
<line x1="292.30" y1="224.50" x2="292.30" y2="220.80" stroke="#6e6e6e" stroke-width="1"/>
<line x1="300.40" y1="120.50" x2="300.40" y2="122.70" stroke="#6e6e6e" stroke-width="1"/>
<line x1="300.40" y1="224.50" x2="300.40" y2="222.30" stroke="#6e6e6e" stroke-width="1"/>
<line x1="308.50" y1="120.50" x2="308.50" y2="122.70" stroke="#6e6e6e" stroke-width="1"/>
<line x1="308.50" y1="224.50" x2="308.50" y2="222.30" stroke="#6e6e6e" stroke-width="1"/>
<line x1="316.60" y1="120.50" x2="316.60" y2="122.70" stroke="#6e6e6e" stroke-width="1"/>
<line x1="316.60" y1="224.50" x2="316.60" y2="222.30" stroke="#6e6e6e" stroke-width="1"/>
<line x1="324.70" y1="120.50" x2="324.70" y2="122.70" stroke="#6e6e6e" stroke-width="1"/>
<line x1="324.70" y1="224.50" x2="324.70" y2="222.30" stroke="#6e6e6e" stroke-width="1"/>
<line x1="332.80" y1="120.50" x2="332.80" y2="124.20" stroke="#6e6e6e" stroke-width="1"/>
<line x1="332.80" y1="224.50" x2="332.80" y2="220.80" stroke="#6e6e6e" stroke-width="1"/>
<line x1="340.90" y1="120.50" x2="340.90" y2="122.70" stroke="#6e6e6e" stroke-width="1"/>
<line x1="340.90" y1="224.50" x2="340.90" y2="222.30" stroke="#6e6e6e" stroke-width="1"/>
<line x1="349.00" y1="120.50" x2="349.00" y2="122.70" stroke="#6e6e6e" stroke-width="1"/>
<line x1="349.00" y1="224.50" x2="349.00" y2="222.30" stroke="#6e6e6e" stroke-width="1"/>
<line x1="357.10" y1="120.50" x2="357.10" y2="122.70" stroke="#6e6e6e" stroke-width="1"/>
<line x1="357.10" y1="224.50" x2="357.10" y2="222.30" stroke="#6e6e6e" stroke-width="1"/>
<line x1="365.20" y1="120.50" x2="365.20" y2="122.70" stroke="#6e6e6e" stroke-width="1"/>
<line x1="365.20" y1="224.50" x2="365.20" y2="222.30" stroke="#6e6e6e" stroke-width="1"/>
<line x1="373.30" y1="120.50" x2="373.30" y2="124.20" stroke="#6e6e6e" stroke-width="1"/>
<line x1="373.30" y1="224.50" x2="373.30" y2="220.80" stroke="#6e6e6e" stroke-width="1"/>
<line x1="381.40" y1="120.50" x2="381.40" y2="122.70" stroke="#6e6e6e" stroke-width="1"/>
<line x1="381.40" y1="224.50" x2="381.40" y2="222.30" stroke="#6e6e6e" stroke-width="1"/>
<line x1="389.50" y1="120.50" x2="389.50" y2="122.70" stroke="#6e6e6e" stroke-width="1"/>
<line x1="389.50" y1="224.50" x2="389.50" y2="222.30" stroke="#6e6e6e" stroke-width="1"/>
<line x1="397.60" y1="120.50" x2="397.60" y2="122.70" stroke="#6e6e6e" stroke-width="1"/>
<line x1="397.60" y1="224.50" x2="397.60" y2="222.30" stroke="#6e6e6e" stroke-width="1"/>
<line x1="405.70" y1="120.50" x2="405.70" y2="122.70" stroke="#6e6e6e" stroke-width="1"/>
<line x1="405.70" y1="224.50" x2="405.70" y2="222.30" stroke="#6e6e6e" stroke-width="1"/>
<line x1="413.80" y1="120.50" x2="413.80" y2="124.20" stroke="#6e6e6e" stroke-width="1"/>
<line x1="413.80" y1="224.50" x2="413.80" y2="220.80" stroke="#6e6e6e" stroke-width="1"/>
<line x1="421.90" y1="120.50" x2="421.90" y2="122.70" stroke="#6e6e6e" stroke-width="1"/>
<line x1="421.90" y1="224.50" x2="421.90" y2="222.30" stroke="#6e6e6e" stroke-width="1"/>
<line x1="430.00" y1="120.50" x2="430.00" y2="122.70" stroke="#6e6e6e" stroke-width="1"/>
<line x1="430.00" y1="224.50" x2="430.00" y2="222.30" stroke="#6e6e6e" stroke-width="1"/>
<line x1="438.10" y1="120.50" x2="438.10" y2="122.70" stroke="#6e6e6e" stroke-width="1"/>
<line x1="438.10" y1="224.50" x2="438.10" y2="222.30" stroke="#6e6e6e" stroke-width="1"/>
<line x1="446.20" y1="120.50" x2="446.20" y2="122.70" stroke="#6e6e6e" stroke-width="1"/>
<line x1="446.20" y1="224.50" x2="446.20" y2="222.30" stroke="#6e6e6e" stroke-width="1"/>
<line x1="454.30" y1="120.50" x2="454.30" y2="124.20" stroke="#6e6e6e" stroke-width="1"/>
<line x1="454.30" y1="224.50" x2="454.30" y2="220.80" stroke="#6e6e6e" stroke-width="1"/>
<line x1="288.50" y1="223.52" x2="290.50" y2="223.52" stroke="#7c7c7c" stroke-width="1"/>
<line x1="457.50" y1="223.52" x2="455.50" y2="223.52" stroke="#7c7c7c" stroke-width="1"/>
<line x1="288.50" y1="218.48" x2="290.50" y2="218.48" stroke="#7c7c7c" stroke-width="1"/>
<line x1="457.50" y1="218.48" x2="455.50" y2="218.48" stroke="#7c7c7c" stroke-width="1"/>
<line x1="288.50" y1="213.44" x2="292.00" y2="213.44" stroke="#7c7c7c" stroke-width="1"/>
<line x1="457.50" y1="213.44" x2="454.00" y2="213.44" stroke="#7c7c7c" stroke-width="1"/>
<line x1="288.50" y1="208.40" x2="290.50" y2="208.40" stroke="#7c7c7c" stroke-width="1"/>
<line x1="457.50" y1="208.40" x2="455.50" y2="208.40" stroke="#7c7c7c" stroke-width="1"/>
<line x1="288.50" y1="203.36" x2="290.50" y2="203.36" stroke="#7c7c7c" stroke-width="1"/>
<line x1="457.50" y1="203.36" x2="455.50" y2="203.36" stroke="#7c7c7c" stroke-width="1"/>
<line x1="288.50" y1="198.32" x2="290.50" y2="198.32" stroke="#7c7c7c" stroke-width="1"/>
<line x1="457.50" y1="198.32" x2="455.50" y2="198.32" stroke="#7c7c7c" stroke-width="1"/>
<line x1="288.50" y1="193.28" x2="292.00" y2="193.28" stroke="#7c7c7c" stroke-width="1"/>
<line x1="457.50" y1="193.28" x2="454.00" y2="193.28" stroke="#7c7c7c" stroke-width="1"/>
<line x1="288.50" y1="188.24" x2="290.50" y2="188.24" stroke="#7c7c7c" stroke-width="1"/>
<line x1="457.50" y1="188.24" x2="455.50" y2="188.24" stroke="#7c7c7c" stroke-width="1"/>
<line x1="288.50" y1="183.20" x2="290.50" y2="183.20" stroke="#7c7c7c" stroke-width="1"/>
<line x1="457.50" y1="183.20" x2="455.50" y2="183.20" stroke="#7c7c7c" stroke-width="1"/>
<line x1="288.50" y1="178.16" x2="290.50" y2="178.16" stroke="#7c7c7c" stroke-width="1"/>
<line x1="457.50" y1="178.16" x2="455.50" y2="178.16" stroke="#7c7c7c" stroke-width="1"/>
<line x1="288.50" y1="173.12" x2="292.00" y2="173.12" stroke="#7c7c7c" stroke-width="1"/>
<line x1="457.50" y1="173.12" x2="454.00" y2="173.12" stroke="#7c7c7c" stroke-width="1"/>
<line x1="288.50" y1="168.08" x2="290.50" y2="168.08" stroke="#7c7c7c" stroke-width="1"/>
<line x1="457.50" y1="168.08" x2="455.50" y2="168.08" stroke="#7c7c7c" stroke-width="1"/>
<line x1="288.50" y1="163.04" x2="290.50" y2="163.04" stroke="#7c7c7c" stroke-width="1"/>
<line x1="457.50" y1="163.04" x2="455.50" y2="163.04" stroke="#7c7c7c" stroke-width="1"/>
<line x1="288.50" y1="158.00" x2="290.50" y2="158.00" stroke="#7c7c7c" stroke-width="1"/>
<line x1="457.50" y1="158.00" x2="455.50" y2="158.00" stroke="#7c7c7c" stroke-width="1"/>
<line x1="288.50" y1="152.96" x2="292.00" y2="152.96" stroke="#7c7c7c" stroke-width="1"/>
<line x1="457.50" y1="152.96" x2="454.00" y2="152.96" stroke="#7c7c7c" stroke-width="1"/>
<line x1="288.50" y1="147.92" x2="290.50" y2="147.92" stroke="#7c7c7c" stroke-width="1"/>
<line x1="457.50" y1="147.92" x2="455.50" y2="147.92" stroke="#7c7c7c" stroke-width="1"/>
<line x1="288.50" y1="142.88" x2="290.50" y2="142.88" stroke="#7c7c7c" stroke-width="1"/>
<line x1="457.50" y1="142.88" x2="455.50" y2="142.88" stroke="#7c7c7c" stroke-width="1"/>
<line x1="288.50" y1="137.84" x2="290.50" y2="137.84" stroke="#7c7c7c" stroke-width="1"/>
<line x1="457.50" y1="137.84" x2="455.50" y2="137.84" stroke="#7c7c7c" stroke-width="1"/>
<line x1="288.50" y1="132.80" x2="292.00" y2="132.80" stroke="#7c7c7c" stroke-width="1"/>
<line x1="457.50" y1="132.80" x2="454.00" y2="132.80" stroke="#7c7c7c" stroke-width="1"/>
<line x1="288.50" y1="127.76" x2="290.50" y2="127.76" stroke="#7c7c7c" stroke-width="1"/>
<line x1="457.50" y1="127.76" x2="455.50" y2="127.76" stroke="#7c7c7c" stroke-width="1"/>
<line x1="288.50" y1="122.72" x2="290.50" y2="122.72" stroke="#7c7c7c" stroke-width="1"/>
<line x1="457.50" y1="122.72" x2="455.50" y2="122.72" stroke="#7c7c7c" stroke-width="1"/>
<rect x="288.5" y="120.5" width="169.0" height="104.0" fill="none" stroke="#8a8a8a" stroke-width="1"/>
<text transform="translate(284.60 216.34) scale(1.000 1.060)" font-size="12.40" text-anchor="end"  >372.6</text>
<text transform="translate(284.60 196.18) scale(1.000 1.060)" font-size="12.40" text-anchor="end"  >372.8</text>
<text transform="translate(284.60 176.02) scale(1.000 1.060)" font-size="12.40" text-anchor="end"  >373.0</text>
<text transform="translate(284.60 155.86) scale(1.000 1.060)" font-size="12.40" text-anchor="end"  >373.2</text>
<text transform="translate(284.60 135.70) scale(1.000 1.060)" font-size="12.40" text-anchor="end"  >373.4</text>
<text transform="translate(292.20 238.30) scale(1.000 1.060)" font-size="12.40" text-anchor="middle"  >79<tspan dx="1.70">000</tspan></text>
<text transform="translate(332.70 238.30) scale(1.000 1.060)" font-size="12.40" text-anchor="middle"  >79<tspan dx="1.70">050</tspan></text>
<text transform="translate(373.20 238.30) scale(1.000 1.060)" font-size="12.40" text-anchor="middle"  >79<tspan dx="1.70">100</tspan></text>
<text transform="translate(413.70 238.30) scale(1.000 1.060)" font-size="12.40" text-anchor="middle"  >79<tspan dx="1.70">150</tspan></text>
<text transform="translate(454.20 238.30) scale(1.000 1.060)" font-size="12.40" text-anchor="middle"  >79<tspan dx="1.70">200</tspan></text>
</svg>
</body></html>
